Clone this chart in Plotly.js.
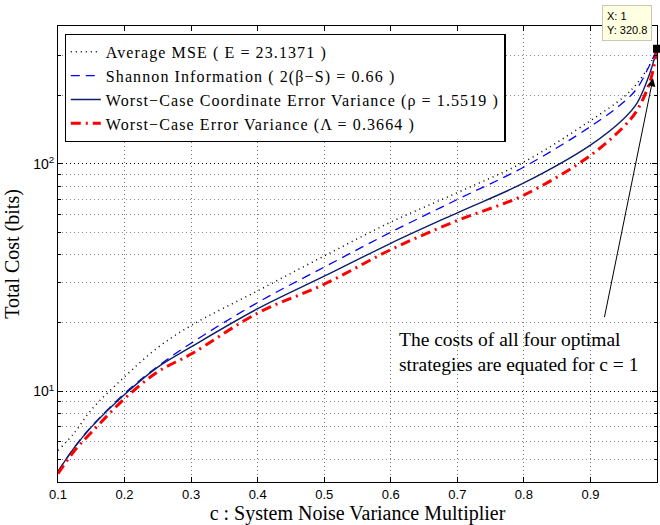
<!DOCTYPE html>
<html>
<head>
<meta charset="utf-8">
<script src="https://cdn.plot.ly/plotly-3.0.1.min.js"></script>
<style>
html,body{margin:0;padding:0;background:#fff;}
#chart{width:660px;height:525px;}
.legendtext{letter-spacing:1.1px;}
</style>
</head>
<body>
<div id="chart"></div>
<script>
// ---- data ----
var cValues = [0.1, 0.125, 0.15, 0.2, 0.25, 0.3, 0.4, 0.5, 0.6, 0.7, 0.8, 0.9, 0.95, 0.97, 0.99, 1.0];
var averageMSE = [5.5, 6.6, 8.3, 11.6, 15.6, 19.5, 27.7, 39.4, 55.5, 74.8, 102, 155, 197, 226, 276, 320.8];
var shannonInfo = [4.45, 5.7, 7.0, 9.8, 12.9, 16.3, 24.6, 35.2, 50.1, 69.8, 97, 146, 187, 215, 276, 320.8];
var worstCoord = [4.45, 5.69, 6.97, 9.7, 12.8, 15.7, 23.1, 32.1, 44.8, 61.0, 82.5, 121, 158, 185, 254, 320.8];
var worstError = [4.35, 5.5, 6.6, 9.3, 12.2, 14.6, 22.1, 29.6, 42.0, 56.4, 73, 109, 146, 172, 233, 320.8];
var seriesNames = [
  "Average MSE ( E = 23.1371 )",
  "Shannon Information ( 2(β−S) = 0.66 )",
  "Worst−Case Coordinate Error Variance (ρ = 1.5519 )",
  "Worst−Case Error Variance (Λ = 0.3664 )"
];
var dataTipX = [1];
var dataTipY = [320.8];
var xTickVals = [0.1, 0.2, 0.3, 0.4, 0.5, 0.6, 0.7, 0.8, 0.9, 1];
var xTickText = ["0.1", "0.2", "0.3", "0.4", "0.5", "0.6", "0.7", "0.8", "0.9", "1"];
var yTickVals = [10, 100];
var yTickText = ["10<sup>1</sup>", "10<sup>2</sup>"];
var yMinorVals = [4, 5, 6, 7, 8, 9, 20, 30, 40, 50, 60, 70, 80, 90, 200, 300];
var annotationText = "The costs of all four optimal<br>strategies are equated for c = 1";
var arrowHead = [0.994, 238];
var arrowTail = [0.9206, 20.9];
var textAnchor = [0.609, 19.3];

var serif = "Liberation Serif, Times New Roman, serif";
var sans = "Liberation Sans, Arial, Helvetica, sans-serif";

var traces = [
  {x: cValues, y: averageMSE, name: seriesNames[0], mode: "lines",
   line: {color: "#000000", width: 1.5, dash: "1px,4px", shape: "spline"}},
  {x: cValues, y: shannonInfo, name: seriesNames[1], mode: "lines",
   line: {color: "#0000ff", width: 1.3, dash: "9px,6px", shape: "spline"}},
  {x: cValues, y: worstCoord, name: seriesNames[2], mode: "lines",
   line: {color: "#0c1f68", width: 1.4, shape: "spline"}},
  {x: cValues, y: worstError, name: seriesNames[3], mode: "lines",
   line: {color: "#ff0000", width: 3, dash: "10px,5px,2px,5px", shape: "spline"}},
  {x: dataTipX, y: dataTipY, mode: "markers", showlegend: false, cliponaxis: false,
   marker: {symbol: "square", size: 8, color: "#000000"}}
];

var layout = {
  width: 660, height: 525,
  margin: {l: 57.5, r: 3, t: 26, b: 43},
  paper_bgcolor: "#ffffff", plot_bgcolor: "#ffffff",
  showlegend: true,
  legend: {
    x: 0.011, y: 0.983, xanchor: "left", yanchor: "top",
    bgcolor: "#ffffff", bordercolor: "#000000", borderwidth: 1.2,
    font: {family: serif, size: 16, color: "#000"},
    tracegroupgap: 0
  },
  xaxis: {
    range: [0.1, 1], tickvals: xTickVals, ticktext: xTickText,
    showline: true, linecolor: "#000", linewidth: 1, mirror: "ticks",
    ticks: "inside", ticklen: 5, tickcolor: "#000",
    showgrid: true, gridcolor: "#777", griddash: "1px,3px", gridwidth: 1,
    zeroline: false,
    tickfont: {family: sans, size: 13, color: "#000"},
    title: {text: "c : System Noise Variance Multiplier", font: {family: serif, size: 20, color: "#000"}, standoff: 5}
  },
  yaxis: {
    type: "log", range: [Math.log10(4), Math.log10(404)],
    tickvals: yTickVals, ticktext: yTickText,
    showline: true, linecolor: "#000", linewidth: 1, mirror: "ticks",
    ticks: "inside", ticklen: 5, tickcolor: "#000",
    showgrid: true, gridcolor: "#000", griddash: "1px,3px", gridwidth: 1,
    zeroline: false,
    minor: {tickvals: yMinorVals, ticks: "inside", ticklen: 3, tickcolor: "#000",
            showgrid: true, gridcolor: "#888", griddash: "1px,3px", gridwidth: 1},
    tickfont: {family: sans, size: 14, color: "#000"},
    title: {text: "Total Cost (bits)", font: {family: serif, size: 20, color: "#000"}, standoff: 8}
  },
  annotations: [
    {x: arrowHead[0], y: Math.log10(arrowHead[1]), xref: "x", yref: "y",
     ax: arrowTail[0], ay: Math.log10(arrowTail[1]), axref: "x", ayref: "y",
     text: "", showarrow: true, arrowhead: 2, arrowsize: 1.6, arrowwidth: 1, arrowcolor: "#000"},
    {x: textAnchor[0], y: Math.log10(textAnchor[1]), xref: "x", yref: "y",
     xanchor: "left", yanchor: "top", align: "left", showarrow: false,
     text: annotationText, font: {family: serif, size: 19.5, color: "#000"}},
    {x: 0.9917, y: 1.046, xref: "paper", yref: "paper", xanchor: "right", yanchor: "top",
     align: "left", showarrow: false, text: "X: 1<br>Y: 320.8",
     font: {family: sans, size: 11, color: "#000"},
     bgcolor: "#ffffe1", bordercolor: "#c8c8b0", borderwidth: 1, borderpad: 4}
  ]
};

Plotly.newPlot("chart", traces, layout, {displayModeBar: false, staticPlot: true});
</script>
</body>
</html>
